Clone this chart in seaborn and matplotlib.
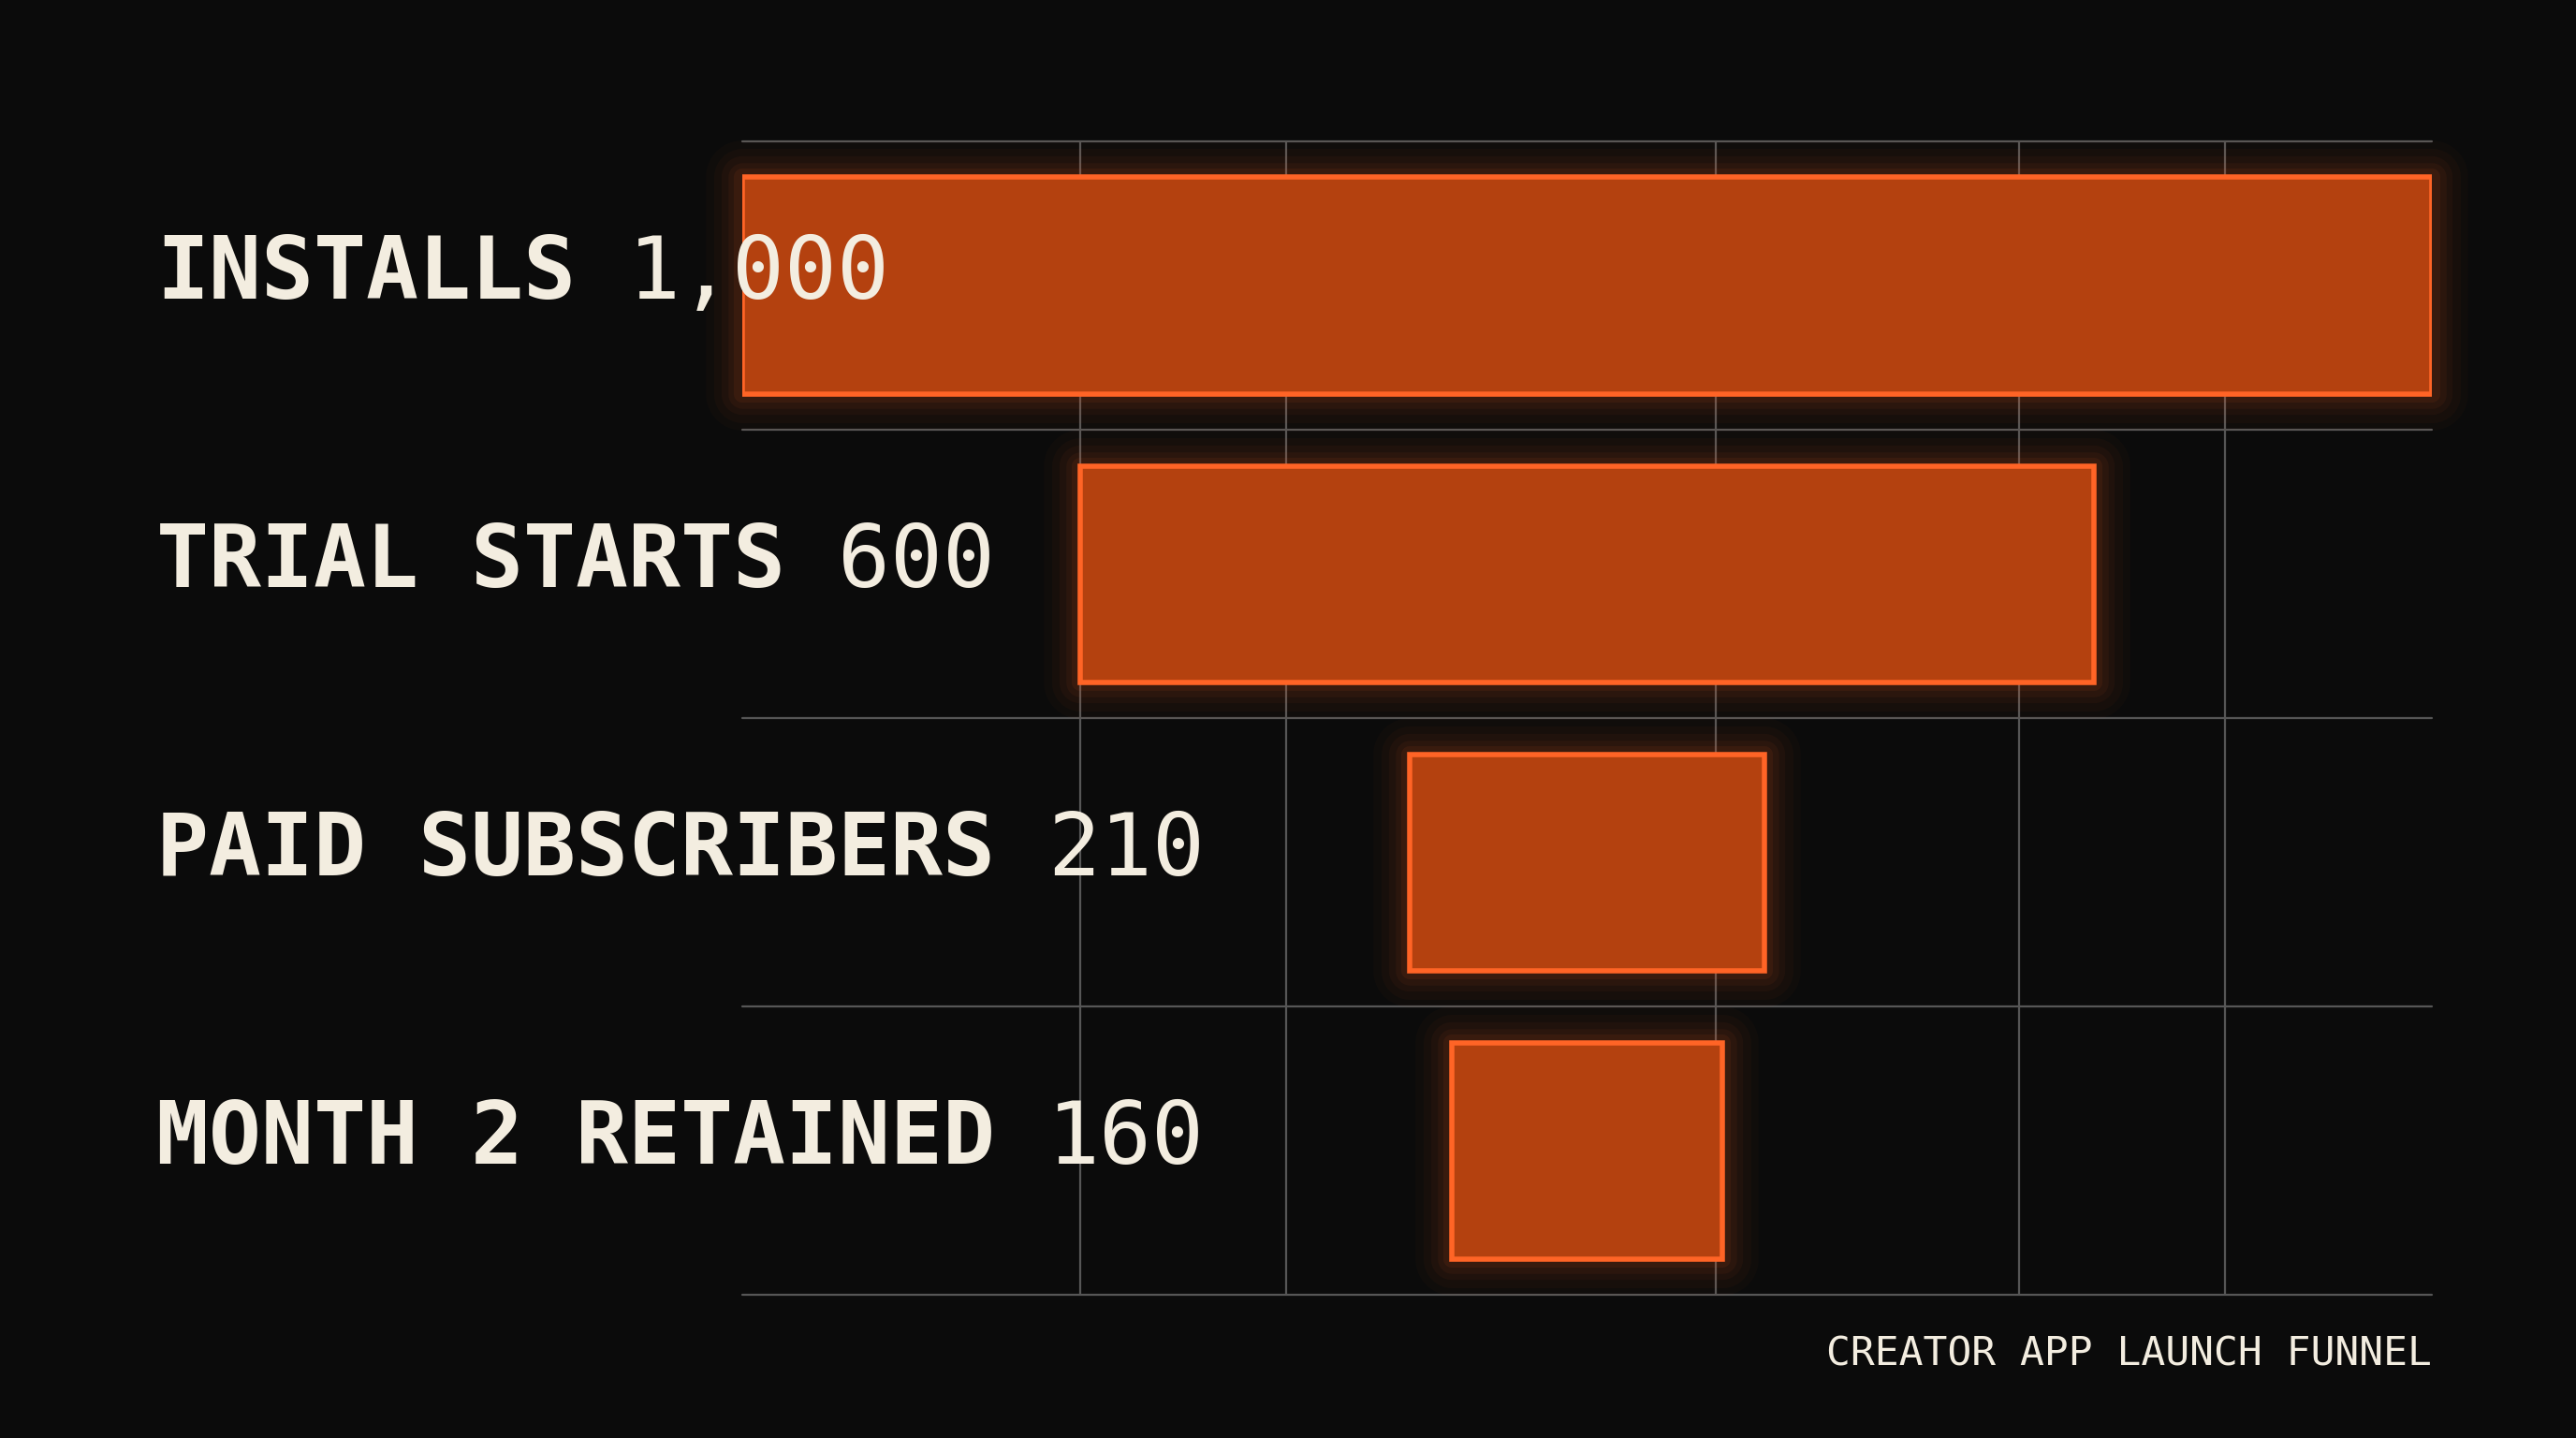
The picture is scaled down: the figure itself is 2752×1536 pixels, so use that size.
import numpy as np
import pandas as pd
import matplotlib
matplotlib.use('Agg')
import matplotlib.pyplot as plt
import matplotlib.transforms as mtransforms
import seaborn as sns

# funnel data
stages = ['INSTALLS', 'TRIAL STARTS', 'PAID SUBSCRIBERS', 'MONTH 2 RETAINED']
users = [1000, 600, 210, 160]
value_labels = ['1,000', '600', '210', '160']
chart_title = 'CREATOR APP LAUNCH FUNNEL'

# colours
BG = '#0b0b0b'
FILL = '#b4410f'
EDGE = '#ff6426'
TEXT = '#f3ede0'
GRID = '#565656'

sns.set_theme(style='dark', rc={'axes.facecolor': BG, 'figure.facecolor': BG})
plt.rcParams['font.family'] = ['DejaVu Sans Mono', 'DejaVu Sans']

df = pd.DataFrame({'stage': stages, 'users': users})
top = max(users)

fig = plt.figure(figsize=(27.52, 15.36), dpi=100)
ax = fig.add_axes([0.2883, 0.0994, 0.6556, 0.8023])
ax.set_facecolor(BG)

# soft glow round the bars
for lw, a in [(56, 0.025), (44, 0.03), (32, 0.04), (22, 0.05), (13, 0.07)]:
    sns.barplot(data=df, x='users', y='stage', orient='y', width=0.75, errorbar=None,
                facecolor='none', edgecolor=EDGE, linewidth=lw, alpha=a,
                zorder=2, ax=ax)
n_glow = len(ax.patches)

sns.barplot(data=df, x='users', y='stage', orient='y', width=0.75, errorbar=None,
            facecolor=FILL, edgecolor=EDGE, linewidth=4, zorder=3, ax=ax)

# center every bar on the widest one (funnel shape)
for k, p in enumerate(ax.patches):
    p.set_x((top - p.get_width()) / 2)
    if k < n_glow:
        p.set_joinstyle('round')
        p.set_clip_on(False)

ax.set_xlim(0, top)
ax.set_ylim(len(stages) - 0.5, -0.5)

# grid: irregular verticals, row separators
ax.set_xticks([200, 322, 576, 756, 878])
ax.grid(axis='x', color=GRID, linewidth=1.6, zorder=0)
ax.grid(axis='y', visible=False)
for b in np.arange(-0.5, len(stages)):
    ax.axhline(b, color=GRID, linewidth=1.6, zorder=0, clip_on=False)
ax.set_axisbelow(True)
ax.tick_params(which='both', length=0, labelleft=False, labelbottom=False)
ax.set_xlabel('')
ax.set_ylabel('')
for s in ax.spines.values():
    s.set_visible(False)

# stage labels + values on the left
trans = mtransforms.blended_transform_factory(fig.transFigure, ax.transData)
fs = 67
for i, (stage, val) in enumerate(zip(stages, value_labels)):
    t = ax.text(0.0606, i - 0.04, stage, transform=trans, ha='left', va='center',
                fontsize=fs, fontweight='bold', color=TEXT, zorder=6)
    ax.annotate(val, xy=(1, 0), xycoords=t, xytext=(0.602 * fs, 0),
                textcoords='offset points', ha='left', va='bottom',
                fontsize=fs, color=TEXT, zorder=6, annotation_clip=False)

fig.text(0.9439, 0.0583, chart_title, ha='right', va='center',
         fontsize=31, color=TEXT)

fig.savefig('out.png', dpi=100, facecolor=BG)
